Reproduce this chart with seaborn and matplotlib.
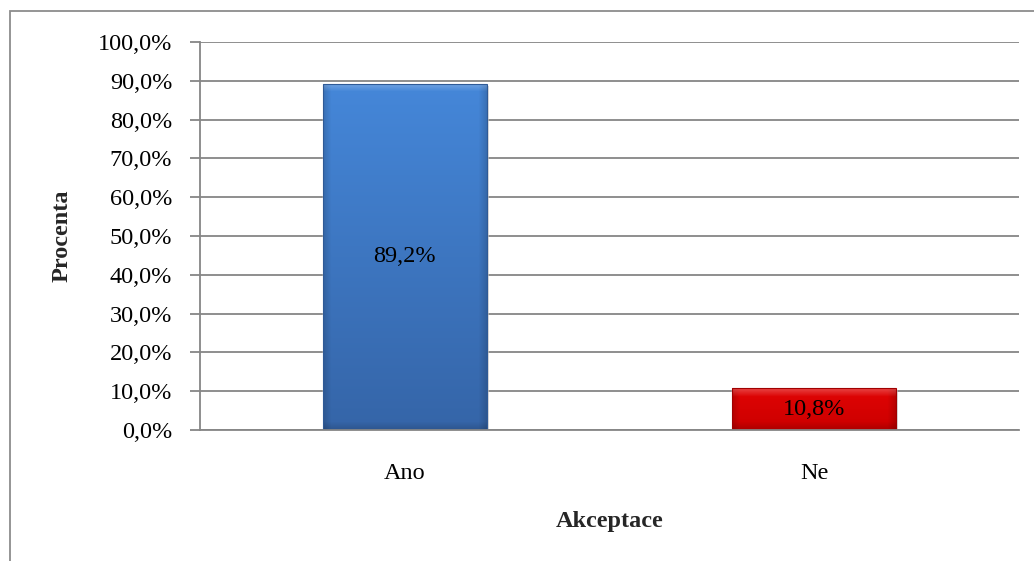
import numpy as np
import pandas as pd
import matplotlib
matplotlib.use("Agg")
import matplotlib.pyplot as plt
import seaborn as sns
from matplotlib.colors import to_rgb
from matplotlib.patches import Rectangle

categories = ["Ano", "Ne"]
values = [89.2, 10.8]
value_labels = ["89,2%", "10,8%"]
ytick_values = [0, 10, 20, 30, 40, 50, 60, 70, 80, 90, 100]
ytick_labels = ["0,0%", "10,0%", "20,0%", "30,0%", "40,0%", "50,0%",
                "60,0%", "70,0%", "80,0%", "90,0%", "100,0%"]
x_title = "Akceptace"
y_title = "Procenta"

sns.set_theme(style="white")
plt.rcParams["font.family"] = ["Liberation Serif", "DejaVu Serif"]

W, H = 1034, 561
FS = 17.5
fig = plt.figure(figsize=(W / 100, H / 100), dpi=100)
ax_l, ax_b, ax_w, ax_h = 200, 430, 1019 - 200, 430 - 42
ax = fig.add_axes([ax_l / W, (H - ax_b) / H, ax_w / W, ax_h / H])

# outer chart-area frame (cropped at right and bottom)
fig.patches.append(Rectangle((9.5 / W, -0.05), 1.2, (H - 11.5) / H + 0.05,
                             transform=fig.transFigure, fill=False,
                             edgecolor="#8c8c8c", linewidth=1.3, zorder=0))

df = pd.DataFrame({"cat": categories, "val": values})
colors = ["#3f7dcf", "#d80000"]
sns.barplot(data=df, x="cat", y="val", hue="cat", palette=colors,
            width=0.40, legend=False, ax=ax, zorder=3, saturation=1)

grad_sets = [("#4587d9", "#3565a8"), ("#e00404", "#cc0000")]
edge_cols = ["#2f5a96", "#a00000"]
for patch, (ctop, cbot), ec in zip(ax.patches, grad_sets, edge_cols):
    x0, y0 = patch.get_x(), patch.get_y()
    w, h = patch.get_width(), patch.get_height()
    wpx = w / 2.0 * ax_w
    hpx = h / 100.0 * ax_h
    nx, ny = max(int(wpx), 2), max(int(hpx), 2)
    t = np.linspace(0, 1, ny).reshape(-1, 1)  # 0 bottom, 1 top
    top = np.array(to_rgb(ctop)); bot = np.array(to_rgb(cbot))
    img = bot + (top - bot) * t[..., None]
    img = np.repeat(img, nx, axis=1)
    xs = np.arange(nx); ys = np.arange(ny)
    bev = 8.0
    dl = xs / bev; dr = (nx - 1 - xs) / bev
    side = np.clip(np.minimum(dl, dr), 0, 1)
    side_f = 0.85 + 0.15 * side  # darker at sides
    img = img * side_f[None, :, None]
    dt = (ny - 1 - ys) / bev
    topf = np.clip(dt, 0, 1)
    light = (1 - topf)[:, None, None] * 0.25
    img = img + (1 - img) * light
    db = ys / bev
    botf = 0.85 + 0.15 * np.clip(db, 0, 1)
    img = img * botf[:, None, None]
    img = np.clip(img, 0, 1)
    im = ax.imshow(img, aspect="auto", origin="lower",
                   extent=[x0, x0 + w, y0, y0 + h], zorder=4,
                   interpolation="bilinear")
    im.set_clip_path(patch)
    # shadow
    ax.add_patch(Rectangle((x0 + 0.005, y0 - 0.45), w, h, facecolor="#b0b0b0",
                           edgecolor="none", alpha=0.55, zorder=2.5))
    ax.add_patch(Rectangle((x0, y0), w, h, fill=False, edgecolor=ec,
                           linewidth=0.8, zorder=5))

ax.set_xlim(-0.5, 1.5)
ax.set_ylim(0, 100)
ax.set_yticks(ytick_values)
ax.set_yticklabels(ytick_labels, fontsize=FS, color="black")
ax.set_xticks([0, 1])
ax.set_xticklabels(categories, fontsize=FS, color="black")
ax.set_xticks([-0.5, 0.5, 1.5], minor=True)
ax.tick_params(axis="x", which="major", length=0, pad=24)
ax.tick_params(axis="x", which="minor", length=7, width=1.3, color="#868686", direction="out")
ax.tick_params(axis="y", which="major", length=7, width=1.3, color="#868686",
               direction="out", pad=13, left=True)

ax.yaxis.grid(True, color="#868686", linewidth=1.3, zorder=0)
ax.set_axisbelow(True)
for s in ["top", "right"]:
    ax.spines[s].set_visible(False)
for s in ["left", "bottom"]:
    ax.spines[s].set_color("#868686")
    ax.spines[s].set_linewidth(1.3)
    ax.spines[s].set_zorder(6)

for i, (v, lab) in enumerate(zip(values, value_labels)):
    ax.text(i, v / 2, lab, ha="center", va="center",
            fontsize=FS, color="black", zorder=7)

ax.set_xlabel(x_title, fontsize=FS, fontweight="bold", va="center")
ax.xaxis.set_label_coords(0.5, (430 - 521) / ax_h)
ax.set_ylabel(y_title, fontsize=FS, fontweight="bold", va="center", ha="center")
ax.yaxis.set_label_coords((62 - 200) / ax_w, 0.5)

fig.savefig("out.png", dpi=100)
